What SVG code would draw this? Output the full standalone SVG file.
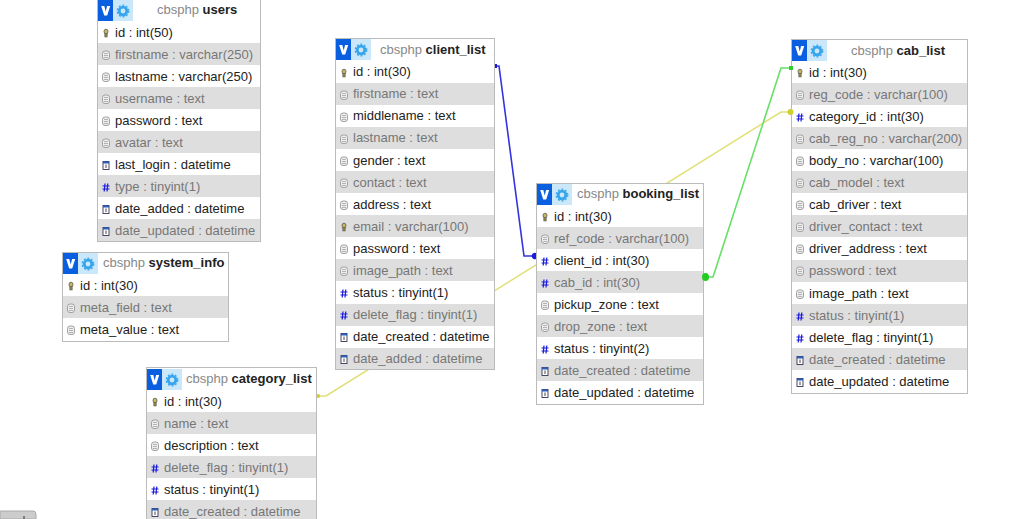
<svg xmlns="http://www.w3.org/2000/svg" xmlns:xlink="http://www.w3.org/1999/xlink" width="1024" height="519" viewBox="0 0 1024 519">
<style>
text{font-family:"Liberation Sans",Arial,sans-serif;font-size:13px;fill:#222}
.box{fill:#fff;stroke:#bbb;stroke-width:1}
.alt{fill:#dedede}
.dim{fill:#777}
.db{fill:#888}
.name{font-weight:bold;fill:#222}
.conn{fill:none;stroke-width:1.600}
</style>
<defs>
<g id="btn">
<rect x="0" y="0" width="35" height="21" fill="#cbe8fb"/>
<rect x="0" y="0" width="15" height="21" fill="#0a5ee0"/>
<path d="M3.200 6h3.100l1.400 5.500 1.400-5.500h3.100l-3 9.500h-3z" fill="#fff"/>
<circle cx="25" cy="11" r="3.800" fill="none" stroke="#36a5ec" stroke-width="2.800"/>
<circle cx="25" cy="11" r="5.800" fill="none" stroke="#36a5ec" stroke-width="1.200" stroke-dasharray="2 1.700"/>
</g>
<g id="key"><ellipse cx="0" cy="-1.500" rx="2" ry="2.300" fill="#c8b85a" stroke="#555" stroke-width=".8"/><rect x="-1.200" y="0.500" width="2.400" height="3.500" fill="#8c8440" stroke="#555" stroke-width=".5"/></g>
<g id="txt"><rect x="-3.500" y="-4" width="7" height="8.500" rx="2.500" fill="#eee" stroke="#999" stroke-width=".9"/><path d="M-2-1.500h4M-2 .5h4M-2 2.500h4" stroke="#999" stroke-width=".7"/></g>
<g id="int"><path d="M-1 -3.500l-.8 8M1.800 -3.500l-.8 8M-3.500-1h7M-3.500 2h7" stroke="#1a1ae0" stroke-width="1.200" fill="none"/></g>
<g id="dt"><rect x="-3" y="-3.500" width="6" height="8" fill="#fff" stroke="#335" stroke-width=".9"/><rect x="-3" y="-3.500" width="6" height="2" fill="#2a5fc0"/><path d="M0-.5v3.500" stroke="#333" stroke-width=".9"/></g>
</defs>

<g id="connectors">
<path class="conn" stroke="#e0e078" d="M316 396H326L781 112H791"/>
<path class="conn" stroke="#3333e0" d="M494 66H499L524 256H536"/>
<path class="conn" stroke="#66e066" d="M703 277H713L781 68H791"/>
<circle cx="318" cy="396" r="2" fill="#cfcf30"/>
<rect x="493" y="64" width="4" height="4" fill="#1a1add"/>
</g>

<g id="users">
<rect class="box" x="97.500" y="-3.500" width="163" height="245"/>
<use href="#btn" x="98" y="0"/>
<text x="157" y="13.500"><tspan class="db">cbsphp </tspan><tspan class="name">users</tspan></text>
<rect class="alt" x="98" y="43" width="162" height="22"/><rect class="alt" x="98" y="87" width="162" height="22"/><rect class="alt" x="98" y="131" width="162" height="22"/><rect class="alt" x="98" y="175" width="162" height="22"/><rect class="alt" x="98" y="219" width="162" height="22"/>
<use href="#key" x="106" y="33"/><text x="115" y="37">id : int(50)</text>
<use href="#txt" x="106" y="55"/><text class="dim" x="115" y="59">firstname : varchar(250)</text>
<use href="#txt" x="106" y="77"/><text x="115" y="81">lastname : varchar(250)</text>
<use href="#txt" x="106" y="99"/><text class="dim" x="115" y="103">username : text</text>
<use href="#txt" x="106" y="121"/><text x="115" y="125">password : text</text>
<use href="#txt" x="106" y="143"/><text class="dim" x="115" y="147">avatar : text</text>
<use href="#dt" x="106" y="165"/><text x="115" y="169">last_login : datetime</text>
<use href="#int" x="106" y="187"/><text class="dim" x="115" y="191">type : tinyint(1)</text>
<use href="#dt" x="106" y="209"/><text x="115" y="213">date_added : datetime</text>
<use href="#dt" x="106" y="231"/><text class="dim" x="115" y="235">date_updated : datetime</text>
</g>

<g id="system_info">
<rect class="box" x="62.500" y="252.500" width="166" height="89"/>
<use href="#btn" x="63" y="253"/>
<text x="103" y="266.500"><tspan class="db">cbsphp </tspan><tspan class="name">system_info</tspan></text>
<rect class="alt" x="63" y="296" width="165" height="22"/>
<use href="#key" x="71" y="286"/><text x="80" y="290">id : int(30)</text>
<use href="#txt" x="71" y="308"/><text class="dim" x="80" y="312">meta_field : text</text>
<use href="#txt" x="71" y="330"/><text x="80" y="334">meta_value : text</text>
</g>

<g id="category_list">
<rect class="box" x="146.500" y="367.500" width="170" height="160"/>
<use href="#btn" x="147" y="369"/>
<text x="186" y="383"><tspan class="db">cbsphp </tspan><tspan class="name">category_list</tspan></text>
<rect class="alt" x="147" y="412" width="169" height="22"/><rect class="alt" x="147" y="456" width="169" height="22"/><rect class="alt" x="147" y="500" width="169" height="22"/>
<use href="#key" x="155" y="402"/><text x="164" y="406">id : int(30)</text>
<use href="#txt" x="155" y="424"/><text class="dim" x="164" y="428">name : text</text>
<use href="#txt" x="155" y="446"/><text x="164" y="450">description : text</text>
<use href="#int" x="155" y="468"/><text class="dim" x="164" y="472">delete_flag : tinyint(1)</text>
<use href="#int" x="155" y="490"/><text x="164" y="494">status : tinyint(1)</text>
<use href="#dt" x="155" y="512"/><text class="dim" x="164" y="516">date_created : datetime</text>
</g>

<g id="client_list">
<rect class="box" x="335.500" y="38.500" width="159" height="331"/>
<use href="#btn" x="336" y="39"/>
<text x="380" y="53.500"><tspan class="db">cbsphp </tspan><tspan class="name">client_list</tspan></text>
<rect class="alt" x="336" y="83" width="158" height="22"/><rect class="alt" x="336" y="127" width="158" height="22"/><rect class="alt" x="336" y="171" width="158" height="22"/><rect class="alt" x="336" y="215" width="158" height="22"/><rect class="alt" x="336" y="259" width="158" height="22"/><rect class="alt" x="336" y="304" width="158" height="22"/><rect class="alt" x="336" y="348" width="158" height="21"/>
<use href="#key" x="344" y="73"/><text x="353" y="76">id : int(30)</text>
<use href="#txt" x="344" y="95"/><text class="dim" x="353" y="98">firstname : text</text>
<use href="#txt" x="344" y="117"/><text x="353" y="120">middlename : text</text>
<use href="#txt" x="344" y="139"/><text class="dim" x="353" y="142">lastname : text</text>
<use href="#txt" x="344" y="161"/><text x="353" y="165">gender : text</text>
<use href="#txt" x="344" y="183"/><text class="dim" x="353" y="187">contact : text</text>
<use href="#txt" x="344" y="205"/><text x="353" y="209">address : text</text>
<use href="#key" x="344" y="227"/><text class="dim" x="353" y="231">email : varchar(100)</text>
<use href="#txt" x="344" y="249"/><text x="353" y="253">password : text</text>
<use href="#txt" x="344" y="271"/><text class="dim" x="353" y="275">image_path : text</text>
<use href="#int" x="344" y="293"/><text x="353" y="297">status : tinyint(1)</text>
<use href="#int" x="344" y="315"/><text class="dim" x="353" y="319">delete_flag : tinyint(1)</text>
<use href="#dt" x="344" y="337"/><text x="353" y="341">date_created : datetime</text>
<use href="#dt" x="344" y="359"/><text class="dim" x="353" y="363">date_added : datetime</text>
</g>

<g id="booking_list">
<rect class="box" x="536.500" y="183.500" width="167" height="221"/>
<use href="#btn" x="537" y="184"/>
<text x="577" y="198"><tspan class="db">cbsphp </tspan><tspan class="name">booking_list</tspan></text>
<rect class="alt" x="537" y="227" width="166" height="22"/><rect class="alt" x="537" y="271" width="166" height="22"/><rect class="alt" x="537" y="315" width="166" height="22"/><rect class="alt" x="537" y="359" width="166" height="22"/>
<use href="#key" x="545" y="217"/><text x="554" y="221">id : int(30)</text>
<use href="#txt" x="545" y="239"/><text class="dim" x="554" y="243">ref_code : varchar(100)</text>
<use href="#int" x="545" y="261"/><text x="554" y="265">client_id : int(30)</text>
<use href="#int" x="545" y="283"/><text class="dim" x="554" y="287">cab_id : int(30)</text>
<use href="#txt" x="545" y="305"/><text x="554" y="309">pickup_zone : text</text>
<use href="#txt" x="545" y="327"/><text class="dim" x="554" y="331">drop_zone : text</text>
<use href="#int" x="545" y="349"/><text x="554" y="353">status : tinyint(2)</text>
<use href="#dt" x="545" y="371"/><text class="dim" x="554" y="375">date_created : datetime</text>
<use href="#dt" x="545" y="393"/><text x="554" y="397">date_updated : datetime</text>
<path d="M536 253a3.200 3.200 0 1 0 0 6z" fill="#1a1add"/>
<ellipse cx="705.500" cy="277" rx="3.500" ry="4" fill="#22cc22"/>
</g>

<g id="cab_list">
<rect class="box" x="791.500" y="39.500" width="176" height="354"/>
<use href="#btn" x="792" y="40"/>
<text x="851" y="54.500"><tspan class="db">cbsphp </tspan><tspan class="name">cab_list</tspan></text>
<rect class="alt" x="792" y="83" width="175" height="22"/><rect class="alt" x="792" y="127" width="175" height="22"/><rect class="alt" x="792" y="171" width="175" height="22"/><rect class="alt" x="792" y="215" width="175" height="22"/><rect class="alt" x="792" y="260" width="175" height="22"/><rect class="alt" x="792" y="304" width="175" height="22"/><rect class="alt" x="792" y="348" width="175" height="22"/>
<use href="#key" x="800" y="73"/><text x="809" y="77">id : int(30)</text>
<use href="#txt" x="800" y="95"/><text class="dim" x="809" y="99">reg_code : varchar(100)</text>
<use href="#int" x="800" y="117"/><text x="809" y="121">category_id : int(30)</text>
<use href="#txt" x="800" y="139"/><text class="dim" x="809" y="143">cab_reg_no : varchar(200)</text>
<use href="#txt" x="800" y="161"/><text x="809" y="165">body_no : varchar(100)</text>
<use href="#txt" x="800" y="183"/><text class="dim" x="809" y="187">cab_model : text</text>
<use href="#txt" x="800" y="205"/><text x="809" y="209">cab_driver : text</text>
<use href="#txt" x="800" y="227"/><text class="dim" x="809" y="231">driver_contact : text</text>
<use href="#txt" x="800" y="249"/><text x="809" y="253">driver_address : text</text>
<use href="#txt" x="800" y="271"/><text class="dim" x="809" y="275">password : text</text>
<use href="#txt" x="800" y="294"/><text x="809" y="298">image_path : text</text>
<use href="#int" x="800" y="316"/><text class="dim" x="809" y="320">status : tinyint(1)</text>
<use href="#int" x="800" y="338"/><text x="809" y="342">delete_flag : tinyint(1)</text>
<use href="#dt" x="800" y="360"/><text class="dim" x="809" y="364">date_created : datetime</text>
<use href="#dt" x="800" y="382"/><text x="809" y="386">date_updated : datetime</text>
<rect x="789" y="66" width="4" height="4" fill="#33cc33"/>
<circle cx="790.500" cy="112" r="3" fill="#cfcf30"/>
</g>

<path d="M0 511H33a3 3 0 0 1 3 3V519H0z" fill="#ccc" stroke="#aaa"/>
<path d="M24 516v3" stroke="#333" stroke-width="1"/>
</svg>
